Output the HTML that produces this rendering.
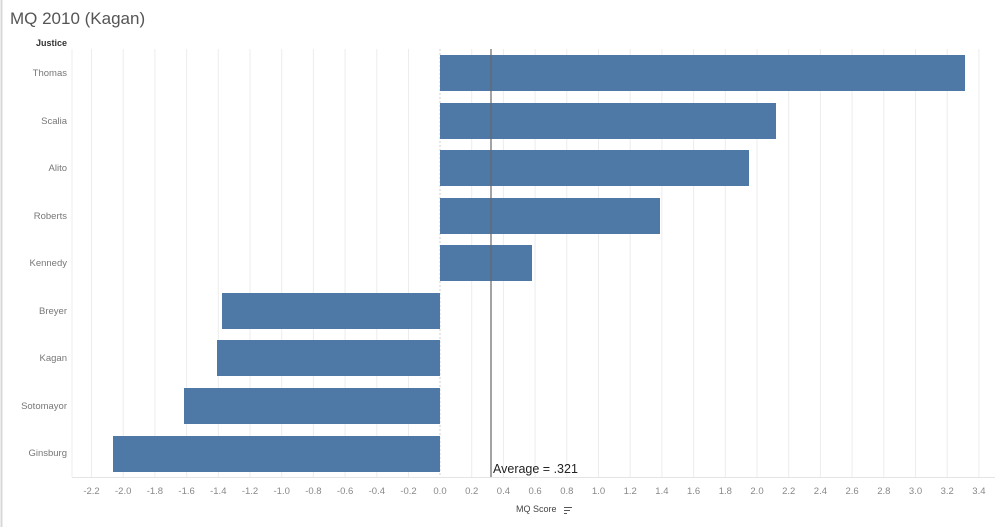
<!DOCTYPE html>
<html><head><style>
body{margin:0;background:#fff;width:1000px;height:527px;overflow:hidden;font-family:"Liberation Sans",sans-serif}
</style></head><body>
<svg width="1000" height="527" xmlns="http://www.w3.org/2000/svg" font-family="Liberation Sans, sans-serif">
<line x1="1.5" y1="0" x2="1.5" y2="527" stroke="#d8d8d8" stroke-width="2"/>
<text x="10" y="24" font-size="17" fill="#555">MQ 2010 (Kagan)</text>
<text x="36" y="46" font-size="9" font-weight="bold" fill="#333">Justice</text>
<g stroke="#ececec" stroke-width="1">
<line x1="72" y1="49" x2="72" y2="477"/>
<line x1="91.5" y1="49" x2="91.5" y2="477"/><line x1="123.2" y1="49" x2="123.2" y2="477"/><line x1="154.9" y1="49" x2="154.9" y2="477"/><line x1="186.6" y1="49" x2="186.6" y2="477"/><line x1="218.3" y1="49" x2="218.3" y2="477"/><line x1="250" y1="49" x2="250" y2="477"/><line x1="281.7" y1="49" x2="281.7" y2="477"/><line x1="313.4" y1="49" x2="313.4" y2="477"/><line x1="345.1" y1="49" x2="345.1" y2="477"/><line x1="376.8" y1="49" x2="376.8" y2="477"/><line x1="408.5" y1="49" x2="408.5" y2="477"/>
<line x1="471.7" y1="49" x2="471.7" y2="477"/><line x1="503.4" y1="49" x2="503.4" y2="477"/><line x1="535.1" y1="49" x2="535.1" y2="477"/><line x1="566.8" y1="49" x2="566.8" y2="477"/><line x1="598.5" y1="49" x2="598.5" y2="477"/><line x1="630.2" y1="49" x2="630.2" y2="477"/><line x1="661.9" y1="49" x2="661.9" y2="477"/><line x1="693.6" y1="49" x2="693.6" y2="477"/><line x1="725.3" y1="49" x2="725.3" y2="477"/><line x1="757" y1="49" x2="757" y2="477"/><line x1="788.7" y1="49" x2="788.7" y2="477"/><line x1="820.4" y1="49" x2="820.4" y2="477"/><line x1="852.1" y1="49" x2="852.1" y2="477"/><line x1="883.8" y1="49" x2="883.8" y2="477"/><line x1="915.5" y1="49" x2="915.5" y2="477"/><line x1="947.2" y1="49" x2="947.2" y2="477"/><line x1="978.9" y1="49" x2="978.9" y2="477"/>
</g>
<line x1="440" y1="49" x2="440" y2="477" stroke="#ccc" stroke-dasharray="2,2"/>
<line x1="72" y1="477.5" x2="995" y2="477.5" stroke="#e4e4e4"/>
<g fill="#4e79a7">
<rect x="440" y="55" width="525" height="36"/>
<rect x="440" y="103" width="336" height="36"/>
<rect x="440" y="150" width="309" height="36"/>
<rect x="440" y="198" width="220" height="36"/>
<rect x="440" y="245" width="92" height="36"/>
<rect x="222" y="293" width="218" height="36"/>
<rect x="217" y="340" width="223" height="36"/>
<rect x="184" y="388" width="256" height="36"/>
<rect x="113" y="436" width="327" height="36"/>
</g>
<line x1="491" y1="49" x2="491" y2="477" stroke="#666" stroke-width="1.2"/>
<text x="493" y="473" font-size="12.5" fill="#222">Average = .321</text>
<g font-size="9.5" fill="#777" text-anchor="end">
<text x="67" y="76">Thomas</text><text x="67" y="124">Scalia</text><text x="67" y="171">Alito</text><text x="67" y="219">Roberts</text><text x="67" y="266">Kennedy</text><text x="67" y="314">Breyer</text><text x="67" y="361">Kagan</text><text x="67" y="409">Sotomayor</text><text x="67" y="456">Ginsburg</text>
</g>
<g font-size="9.5" fill="#888" text-anchor="middle">
<text x="91.5" y="494">-2.2</text><text x="123.2" y="494">-2.0</text><text x="154.9" y="494">-1.8</text><text x="186.6" y="494">-1.6</text><text x="218.3" y="494">-1.4</text><text x="250" y="494">-1.2</text><text x="281.7" y="494">-1.0</text><text x="313.4" y="494">-0.8</text><text x="345.1" y="494">-0.6</text><text x="376.8" y="494">-0.4</text><text x="408.5" y="494">-0.2</text><text x="440" y="494">0.0</text><text x="471.7" y="494">0.2</text><text x="503.4" y="494">0.4</text><text x="535.1" y="494">0.6</text><text x="566.8" y="494">0.8</text><text x="598.5" y="494">1.0</text><text x="630.2" y="494">1.2</text><text x="661.9" y="494">1.4</text><text x="693.6" y="494">1.6</text><text x="725.3" y="494">1.8</text><text x="757" y="494">2.0</text><text x="788.7" y="494">2.2</text><text x="820.4" y="494">2.4</text><text x="852.1" y="494">2.6</text><text x="883.8" y="494">2.8</text><text x="915.5" y="494">3.0</text><text x="947.2" y="494">3.2</text><text x="978.9" y="494">3.4</text>
</g>
<text x="516" y="512" font-size="9" fill="#444">MQ Score</text>
<g stroke="#555" stroke-width="1"><line x1="564" y1="507.5" x2="572" y2="507.5"/><line x1="564" y1="510.5" x2="570" y2="510.5"/><line x1="564" y1="513.5" x2="567" y2="513.5"/></g>
</svg>
</body></html>
